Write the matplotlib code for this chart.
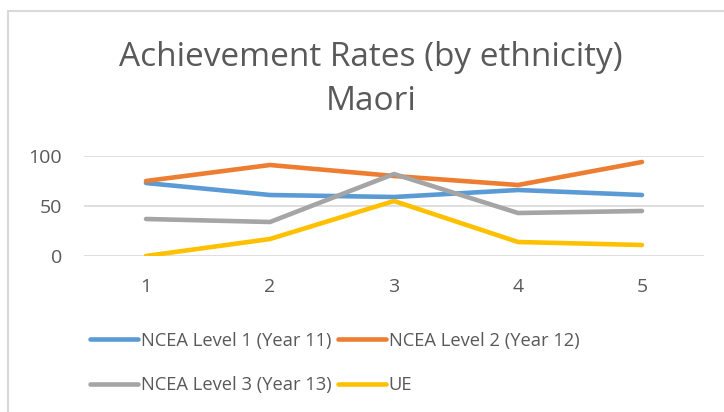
import matplotlib.pyplot as plt
from matplotlib.patches import Rectangle

plt.rcParams["font.family"] = ["Open Sans", "DejaVu Sans"]

# data
years = [1, 2, 3, 4, 5]
level1 = [73, 61, 59, 66, 61]
level2 = [75, 91, 80, 71, 94]
level3 = [37, 34, 82, 43, 45]
ue = [0, 17, 55, 14, 11]
series_names = ["NCEA Level 1 (Year 11)", "NCEA Level 2 (Year 12)",
                "NCEA Level 3 (Year 13)", "UE"]
colors = ["#5B9BD5", "#ED7D31", "#A5A5A5", "#FFC000"]

fig = plt.figure(figsize=(7.24, 4.12), dpi=100)
ax = fig.add_axes([84 / 724, 1 - 256 / 412, 620 / 724, 100 / 412])

# chart border (only left/top visible in the crop)
fig.patches.append(Rectangle((8 / 724, -0.1), 1.2, 1 - 11 / 412 + 0.1,
                             transform=fig.transFigure, fill=False,
                             edgecolor="#D9D9D9", lw=1.5))

lines = []
for vals, name, c in zip([level1, level2, level3, ue], series_names, colors):
    ln, = ax.plot(years, vals, color=c, lw=3.3, label=name,
                  solid_capstyle="round")
    lines.append(ln)

ax.set_xlim(0.5, 5.5)
ax.set_ylim(0, 100)
ax.set_yticks([0, 50, 100])
ax.set_xticks(years)
ax.grid(axis="y", color="#D9D9D9", lw=1.2)
ax.set_axisbelow(True)
for s in ax.spines.values():
    s.set_visible(False)
ax.tick_params(length=0, labelsize=14, colors="#595959")
ax.tick_params(axis="y", pad=16)
ax.tick_params(axis="x", pad=16)

fig.text(371 / 724, 1 - 58 / 412, "Achievement Rates (by ethnicity)",
         ha="center", va="center", fontsize=24, color="#595959")
fig.text(371 / 724, 1 - 102 / 412, "Maori", ha="center", va="center",
         fontsize=24, color="#595959")

# legend fills column-wise, so reorder to get row-wise layout
order = [0, 2, 1, 3]
fig.legend([lines[i] for i in order], [series_names[i] for i in order],
           loc="center left", bbox_to_anchor=(90 / 724, 1 - 363 / 412), ncol=2,
           frameon=False, fontsize=13.2, handlelength=2.6, handletextpad=0.16,
           columnspacing=0.38, labelcolor="#595959", labelspacing=1.45,
           borderpad=0, borderaxespad=0)

fig.savefig("out.png", dpi=100)
